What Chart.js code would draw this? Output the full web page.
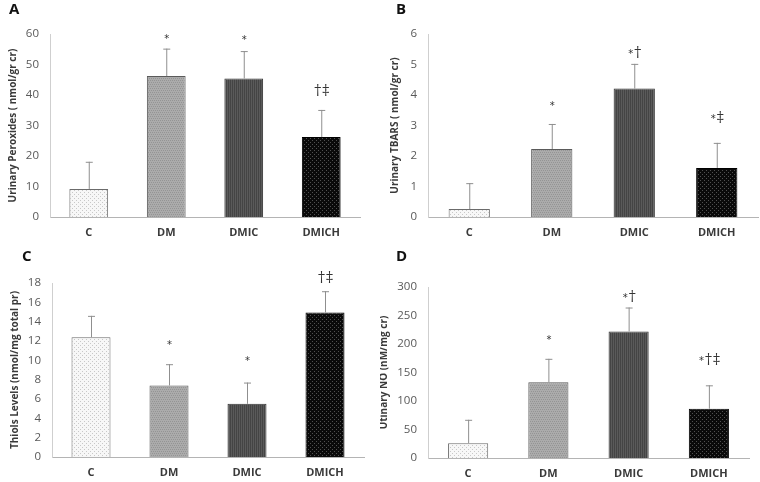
<!DOCTYPE html>
<html>
<head>
<meta charset="utf-8">
<script src="https://cdn.jsdelivr.net/npm/chart.js@4/dist/chart.umd.min.js"></script>
<style>
  body { margin: 0; background: #fff; width: 760px; height: 482px; position: relative; overflow: hidden; }
  .panel { position: absolute; width: 380px; height: 241px; }
  .letter { position: absolute; font: bold 15px "Open Sans", sans-serif; color: #111; }
</style>
</head>
<body>
<div class="panel" style="left:0;top:0"><canvas id="chartA"></canvas></div>
<div class="panel" style="left:380px;top:0"><canvas id="chartB"></canvas></div>
<div class="panel" style="left:0;top:241px"><canvas id="chartC"></canvas></div>
<div class="panel" style="left:380px;top:241px"><canvas id="chartD"></canvas></div>
<div class="letter" style="left:9px;top:-2px">A</div>
<div class="letter" style="left:396px;top:-2px">B</div>
<div class="letter" style="left:22px;top:245px">C</div>
<div class="letter" style="left:396px;top:245px">D</div>
<script>
const categories = ['C', 'DM', 'DMIC', 'DMICH'];

// A - urinary peroxides
const peroxMeans = [9.2, 46.2, 45.4, 26.2];
const peroxSD = [8.9, 9.0, 9.0, 8.9];
const peroxMarks = ['', '*', '*', '†‡'];
const peroxMarkAt = [0, 58.7, 58.1, 41.1];

// B - urinary TBARS
const tbarsMeans = [0.26, 2.23, 4.21, 1.61];
const tbarsSD = [0.85, 0.82, 0.81, 0.82];
const tbarsMarks = ['', '*', '*†', '*‡'];
const tbarsMarkAt = [0, 3.67, 5.37, 3.23];

// C - thiols
const thiolMeans = [12.4, 7.4, 5.5, 14.95];
const thiolSD = [2.2, 2.2, 2.2, 2.2];
const thiolMarks = ['', '*', '*', '†‡'];
const thiolMarkAt = [0, 11.6, 10.0, 18.45];

// D - urinary NO
const noMeans = [26, 133, 222, 86.5];
const noSD = [41, 41, 42, 41];
const noMarks = ['', '*', '*†', '*†‡'];
const noMarkAt = [0, 208, 282, 172];

function makePattern(bg, dot, kind) {
    const c = document.createElement('canvas');
    c.width = 4; c.height = 4;
    const g = c.getContext('2d');
    g.fillStyle = bg;
    g.fillRect(0, 0, 4, 4);
    g.fillStyle = dot;
    if (kind === 'stripe') {
        g.fillRect(0, 0, 1, 4);
        g.fillRect(2, 0, 1, 4);
    } else if (kind === 'checker') {
        g.fillRect(0, 0, 1, 1); g.fillRect(2, 0, 1, 1);
        g.fillRect(1, 2, 1, 1); g.fillRect(3, 2, 1, 1);
    } else {
        g.fillRect(0, 0, 1, 1);
        g.fillRect(2, 2, 1, 1);
    }
    return g.createPattern(c, 'repeat');
}

const fills = [
    makePattern('#f7f7f7', '#c8c8c8', 'dots'),
    makePattern('#ababab', '#949494', 'checker'),
    makePattern('#5a5a5a', '#444444', 'stripe'),
    makePattern('#0a0a0a', '#505050', 'dots')
];
const borders = ['#6b6b6b', '#5a5a5a', '#333333', '#000000'];

// star is small and raised, daggers bigger
function markFont(ch) {
    return ch === '*' ? '10px "DejaVu Sans", sans-serif' : '14px "DejaVu Serif", serif';
}

// error bars (upper only) and significance marks
const extrasPlugin = {
    id: 'extras',
    afterDatasetsDraw(chart, args, opts) {
        const ctx = chart.ctx;
        const meta = chart.getDatasetMeta(0);
        const y = chart.scales.y;
        ctx.save();
        meta.data.forEach((bar, i) => {
            const top = y.getPixelForValue(opts.means[i] + opts.sd[i]);
            const base = y.getPixelForValue(opts.means[i]);
            ctx.strokeStyle = '#8f8f8f';
            ctx.lineWidth = 1;
            ctx.beginPath();
            ctx.moveTo(bar.x + 0.5, base);
            ctx.lineTo(bar.x + 0.5, top);
            ctx.moveTo(bar.x - 3, top + 0.5);
            ctx.lineTo(bar.x + 4, top + 0.5);
            ctx.stroke();

            const chars = Array.from(opts.marks[i]);
            if (!chars.length) return;
            const widths = chars.map(ch => { ctx.font = markFont(ch); return ctx.measureText(ch).width + 1; });
            let x = bar.x + 1 - widths.reduce((a, b) => a + b, 0) / 2;
            const yMid = y.getPixelForValue(opts.markAt[i]);
            ctx.fillStyle = '#333';
            ctx.textAlign = 'left';
            ctx.textBaseline = 'middle';
            chars.forEach((ch, k) => {
                ctx.font = markFont(ch);
                ctx.fillText(ch, x, ch === '*' ? yMid + 1 : yMid);
                x += widths[k];
            });
        });
        ctx.restore();
    }
};

function makeChart(id, title, means, sd, marks, markAt, yMax, step, box) {
    new Chart(document.getElementById(id), {
        type: 'bar',
        data: {
            labels: categories,
            datasets: [{
                data: means,
                backgroundColor: fills,
                borderColor: borders,
                borderWidth: 1,
                barPercentage: 0.5,
                categoryPercentage: 1.0
            }]
        },
        options: {
            responsive: true,
            maintainAspectRatio: false,
            animation: false,
            layout: { padding: { top: box.top, right: box.right, bottom: 0, left: 0 } },
            plugins: {
                legend: { display: false },
                tooltip: { enabled: false },
                extras: { means: means, sd: sd, marks: marks, markAt: markAt }
            },
            scales: {
                x: {
                    grid: { display: false, drawTicks: false },
                    border: { display: true, color: '#b4b4b4' },
                    ticks: {
                        padding: 9,
                        color: '#3a3a3a',
                        font: { family: 'Open Sans', size: 11, weight: 'bold' }
                    },
                    afterFit: s => { s.height = box.bottom; }
                },
                y: {
                    min: 0,
                    max: yMax,
                    grid: { display: false, drawTicks: false },
                    border: { display: true, color: '#cfcfcf' },
                    ticks: {
                        stepSize: step,
                        padding: 11,
                        color: '#595959',
                        font: { family: 'Open Sans', size: 11.5 }
                    },
                    title: {
                        display: true,
                        text: title,
                        color: '#3a3a3a',
                        padding: { top: box.titlePad, bottom: 0 },
                        font: { family: 'Open Sans', size: 10, weight: 'bold' }
                    },
                    afterFit: s => { s.width = box.left; }
                }
            }
        },
        plugins: [extrasPlugin]
    });
}

makeChart('chartA', 'Urinary Peroxides ( nmol/gr cr)', peroxMeans, peroxSD, peroxMarks, peroxMarkAt, 60, 10,
    { left: 50, right: 20, top: 34, bottom: 24, titlePad: 7 });
makeChart('chartB', 'Urinary TBARS ( nmol/gr cr)', tbarsMeans, tbarsSD, tbarsMarks, tbarsMarkAt, 6, 1,
    { left: 48, right: 2, top: 34, bottom: 24, titlePad: 9 });
makeChart('chartC', 'Thiols Levels (nmol/mg total pr)', thiolMeans, thiolSD, thiolMarks, thiolMarkAt, 18, 2,
    { left: 52, right: 16, top: 42, bottom: 25, titlePad: 9 });
makeChart('chartD', 'Utinary NO (nM/mg cr)', noMeans, noSD, noMarks, noMarkAt, 300, 50,
    { left: 48, right: 11, top: 46, bottom: 24, titlePad: -2 });
</script>
</body>
</html>
